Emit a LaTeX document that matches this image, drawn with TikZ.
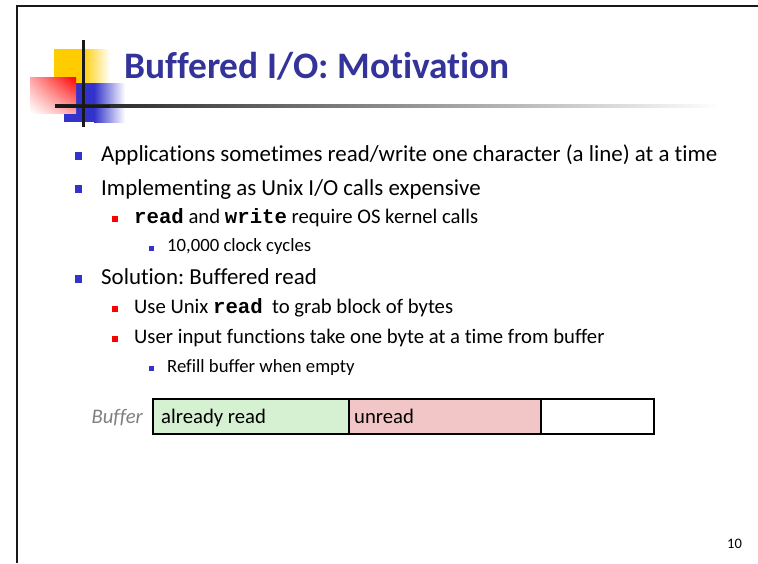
\documentclass[tikz,border=0pt]{standalone}
\usepackage{fontspec}
\usetikzlibrary{shadings}
\setmainfont{Carlito}[Ligatures={NoCommon,NoContextual,NoRequired,TeX}]
\newfontfamily\codefont{Liberation Mono}
\frenchspacing
\definecolor{titleblue}{HTML}{333399}
\definecolor{bulblue}{HTML}{3333CC}
\definecolor{logoyellow}{HTML}{FFCC00}
\definecolor{bufgreen}{HTML}{D6F0D2}
\definecolor{bufred}{HTML}{F2C6C6}
\tikzset{
  lone/.style={anchor=base west, inner sep=0pt, font=\fontsize{22.9}{26}\selectfont},
  ltwo/.style={anchor=base west, inner sep=0pt, font=\fontsize{20.7}{23}\selectfont},
  lthree/.style={anchor=base west, inner sep=0pt, font=\fontsize{18.7}{21}\selectfont},
  bone/.style={fill=bulblue, draw=none, minimum size=7.5pt, inner sep=0pt},
  btwo/.style={fill=red, draw=none, minimum size=6pt, inner sep=0pt},
  bthree/.style={fill=bulblue, draw=none, minimum size=5pt, inner sep=0pt},
  cell/.style={draw=black, line width=2pt, minimum height=35pt, inner sep=0pt, anchor=north west},
  celltext/.style={anchor=base west, inner sep=0pt, font=\fontsize{20.7}{23}\selectfont}
}
\begin{document}
\begin{tikzpicture}[x=1pt,y=-1pt]
\useasboundingbox (0,0) rectangle (758,563);
% frame
\draw[line width=2.5pt, black!90] (17,563) coordinate (fb) -- (17,6) coordinate (fc) -- (758,6) coordinate (fr);
% logo
\fill[logoyellow] (54,49) rectangle (82,83);
\shade[left color=logoyellow, right color=white] (82,49) rectangle (110,83);
\fill[bulblue] (64,83) rectangle (94,122);
\shade[left color=bulblue, right color=white] (94,83) rectangle (125,122);
\shade[upper right=red, lower left=white, upper left=red!35, lower right=red!35] (30,77) rectangle (76,113);
\shade[left color=black!90, right color=white] (55,104.5) rectangle (720,107.5);
\fill[black!90] (55,104.5) rectangle (110,107.5);
\fill[black!90] (81.5,40) rectangle (84.5,127);
% title
\node[anchor=base west, inner sep=0pt, text=titleblue, font=\fontsize{37.4}{42}\selectfont\bfseries] (title) at (124,78) {Buffered I/O: Motivation};
% bullets
\node[bone] (b1) at (78.5,156) {};
\node[lone] (t1) at (101,161) {Applications sometimes read/write one character (a line) at a time};
\node[bone] (b2) at (78.5,189) {};
\node[lone] (t2) at (101,195) {Implementing as Unix I/O calls expensive};
\node[btwo] (b3) at (115,219) {};
\node[ltwo] (t3) at (134,223) {{\codefont\bfseries read} and {\codefont\bfseries write} require OS kernel calls};
\node[bthree] (b4) at (151.5,248) {};
\node[lthree] (t4) at (167,251) {10,000 clock cycles};
\node[bone] (b5) at (78.5,279) {};
\node[lone] (t5) at (101,284) {Solution: Buffered read};
\node[btwo] (b6) at (115,309) {};
\node[ltwo] (t6) at (134,313) {Use Unix {\codefont\bfseries read} \ to grab block of bytes};
\node[btwo] (b7) at (115,339) {};
\node[ltwo] (t7) at (134,343) {User input functions take one byte at a time from buffer};
\node[bthree] (b8) at (151.5,368) {};
\node[lthree] (t8) at (167,372) {Refill buffer when empty};
% buffer
\node[cell, fill=bufgreen, minimum width=196pt] (c1) at (152,398) {};
\node[cell, fill=bufred, minimum width=192pt] (c2) at (348,398) {};
\node[cell, fill=white, minimum width=113pt] (c3) at (540,398) {};
\node[celltext] (c1t) at (161,423) {already read};
\node[celltext] (c2t) at (354,423) {unread};
\node[anchor=base east, inner sep=0pt, text=black!50, font=\fontsize{20.7}{23}\selectfont\itshape] (buf) at (143,423) {Buffer};
% page number
\node[anchor=base west, inner sep=0pt, font=\fontsize{14.5}{17}\selectfont] (pg) at (727,548) {10};
\end{tikzpicture}
\end{document}
